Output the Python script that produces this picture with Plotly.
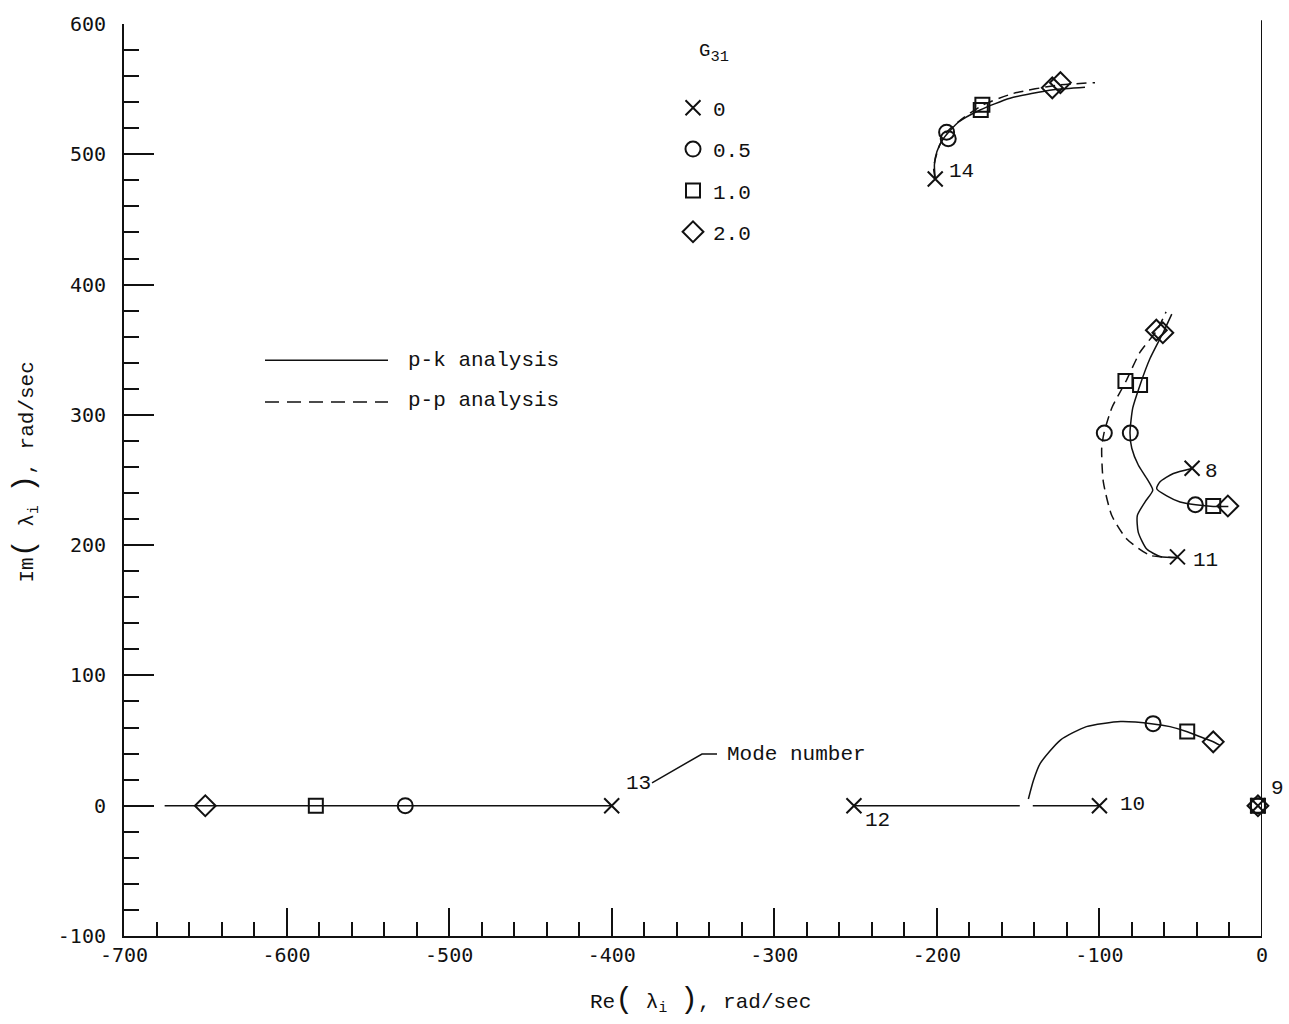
import plotly.graph_objects as go

# ---------------------------------------------------------------
# Root loci of modes 8-14, Re / Im of lambda_i in rad/sec
# ---------------------------------------------------------------

# Mode 14: p-k and p-p analyses
m14_pk_re = [-201, -201.5, -200, -196, -186.8, -173.4, -155, -128.4, -108.9]
m14_pk_im = [481, 492, 502, 512, 524.6, 534, 543, 549.5, 551.5]
m14_pp_re = [-201, -202, -199, -194, -183.7, -171.4, -153, -126, -102.7]
m14_pp_im = [481, 490, 504.7, 517, 528, 538, 546.7, 553, 555]

# Mode 11 (p-k) - veers away from mode 8 near -67 + 240i
m11_pk_re = [-51.5, -62.7, -70.9, -76.1, -76.7, -72, -67.2, -70.9, -76.1, -80.1,
             -81.2, -79.5, -75, -68.9, -60.7, -55.5]
m11_pk_im = [190.5, 191.3, 197, 209.8, 222.7, 233.1, 242.1, 251.2, 261.5, 274.4,
             286, 305.3, 323, 343.2, 363.4, 377.3]
# Mode 11 (p-p)
m11_pp_re = [-51.5, -68.9, -83.2, -92.4, -97.6, -98.6, -97.2, -92.4, -83.6, -75, -64.8, -59]
m11_pp_im = [190.5, 192.2, 204.7, 222.7, 248.6, 274.4, 286, 305.3, 326, 348.2, 364.6, 379]

# Mode 8 (p-k)
m8_pk_re = [-43.2, -54.5, -62.7, -64.8, -58.6, -50.4, -40.8, -30, -20.7]
m8_pk_im = [258.9, 255, 248.6, 243.4, 237.8, 233.1, 231, 229.7, 229.7]

# Modes 12 and 10 on the real axis, then the complex branch
m12_re = [-251, -149]
m12_im = [0, 0]
m10_re = [-100, -141]
m10_im = [0, 0]
m10_branch_re = [-143.7, -140.6, -136.5, -124, -108, -87, -67, -56.6, -46, -38, -30, -26]
m10_branch_im = [5.2, 19.4, 32.3, 50.4, 60.7, 64.6, 62.8, 60.7, 56.8, 52.9, 49.1, 46.5]

# Mode 13 along the negative real axis
m13_re = [-400, -527, -582, -650, -675]
m13_im = [0, 0, 0, 0, 0]

# Roots at each value of G31
# G31 = 0   : modes 8, 9, 10, 11, 12, 13, 14
g0_re = [-43, -2.5, -100, -52, -251, -400, -201]
g0_im = [259, 0, 0, 191, 0, 0, 481]
mode_ids = ["8", "9", "10", "11", "12", "13", "14"]
# G31 = 0.5 : p-k modes 8, 9, 10, 11; p-p mode 11; p-k 13; p-k 14; p-p 14
g05_re = [-41, -2.5, -67, -81, -97, -527, -193, -194]
g05_im = [231, 0, 63, 286, 286, 0, 512, 517]
# G31 = 1.0
g10_re = [-30, -2.5, -46, -75, -84, -582, -173, -172]
g10_im = [230, 0, 57, 323, 326, 0, 534, 538]
# G31 = 2.0
g20_re = [-21, -2.5, -30, -61, -65, -650, -129, -124]
g20_im = [230, 0, 49, 363, 365, 0, 551, 555]

g31_labels = ["0", "0.5", "1.0", "2.0"]

x_ticks = [-700, -600, -500, -400, -300, -200, -100, 0]
y_ticks = [-100, 0, 100, 200, 300, 400, 500, 600]

TXT = "Liberation Mono"
NUM = "DejaVu Sans Mono"
INK = "#111111"

fig = go.Figure()

solid = dict(color=INK, width=1.5, shape="spline", smoothing=0.6)
dashed = dict(color=INK, width=1.5, shape="spline", smoothing=0.6, dash="10px,6px")

curves = [
    (m14_pk_re, m14_pk_im, solid),
    (m14_pp_re, m14_pp_im, dashed),
    (m11_pk_re, m11_pk_im, solid),
    (m11_pp_re, m11_pp_im, dashed),
    (m8_pk_re, m8_pk_im, solid),
    (m12_re, m12_im, solid),
    (m10_re, m10_im, solid),
    (m10_branch_re, m10_branch_im, solid),
    (m13_re, m13_im, solid),
]
for xs, ys, ln in curves:
    fig.add_trace(go.Scatter(x=xs, y=ys, mode="lines", line=ln,
                             showlegend=False, hoverinfo="skip"))

marker_sets = [
    (g0_re, g0_im, "x-thin-open", 15),
    (g05_re, g05_im, "circle-open", 15),
    (g10_re, g10_im, "square-open", 14),
    (g20_re, g20_im, "diamond-open", 16),
]
for (xs, ys, sym, size), name in zip(marker_sets, g31_labels):
    fig.add_trace(go.Scatter(
        x=xs, y=ys, mode="markers", name=name, legendgroup=name,
        marker=dict(symbol=sym, size=size, color=INK,
                    line=dict(color=INK, width=2)),
        cliponaxis=False,
    ))

# mode-number labels next to the G31 = 0 roots
label_offsets = {"8": (11, -3), "9": (11, 17), "10": (19, 1), "11": (14, -4),
                 "12": (9, -15), "13": (12, 22), "14": (12, 8)}
annotations = []
for mid, xr, yi in zip(mode_ids, g0_re, g0_im):
    dx, dy = label_offsets[mid]
    annotations.append(dict(x=xr, y=yi, xref="x", yref="y", text=mid,
                            showarrow=False, xanchor="left", yanchor="middle",
                            xshift=dx, yshift=dy,
                            font=dict(family=TXT, size=21, color=INK)))

def px_x(p):
    return (p - 124) / 1138.0

def px_y(p):
    return (936 - p) / 917.0

paren = "<span style='font-size:30px'>%s</span>"
annotations += [
    dict(x=px_x(697), y=px_y(48), xref="paper", yref="paper",
         text="G<span style='font-size:22px'><sub>31</sub></span>", showarrow=False,
         xanchor="left", yanchor="middle",
         font=dict(family=TXT, size=19, color=INK)),
    dict(x=px_x(406), y=px_y(357), xref="paper", yref="paper",
         text="p-k analysis", showarrow=False, xanchor="left", yanchor="middle",
         font=dict(family=TXT, size=21, color=INK)),
    dict(x=px_x(406), y=px_y(398), xref="paper", yref="paper",
         text="p-p analysis", showarrow=False, xanchor="left", yanchor="middle",
         font=dict(family=TXT, size=21, color=INK)),
    dict(x=px_x(725), y=px_y(754), xref="paper", yref="paper",
         text="Mode number", showarrow=False, xanchor="left", yanchor="middle",
         font=dict(family=TXT, size=21, color=INK)),
    dict(x=px_x(700), y=px_y(1000), xref="paper", yref="paper",
         text="Re" + paren % "(" + " λ<sub>i</sub> " + paren % ")" + ", rad/sec",
         showarrow=False, xanchor="center", yanchor="middle",
         font=dict(family=TXT, size=21, color=INK)),
    dict(x=px_x(25), y=px_y(470), xref="paper", yref="paper", textangle=-90,
         text="Im" + paren % "(" + " λ<sub>i</sub> " + paren % ")" + ", rad/sec",
         showarrow=False, xanchor="center", yanchor="middle",
         font=dict(family=TXT, size=21, color=INK)),
]

shapes = [
    # imaginary axis
    dict(type="line", xref="x", yref="paper", x0=0, x1=0, y0=0, y1=1.004,
         line=dict(color=INK, width=2)),
    # line-style key
    dict(type="line", xref="paper", yref="paper", x0=px_x(265), x1=px_x(388),
         y0=px_y(357), y1=px_y(357), line=dict(color=INK, width=1.5)),
    dict(type="line", xref="paper", yref="paper", x0=px_x(265), x1=px_x(388),
         y0=px_y(399), y1=px_y(399), line=dict(color=INK, width=1.5, dash="14px,8px")),
    # mode-number leader
    dict(type="path", xref="paper", yref="paper",
         path="M %f,%f L %f,%f L %f,%f" % (px_x(652), px_y(782), px_x(702), px_y(753),
                                           px_x(717), px_y(753)),
         line=dict(color=INK, width=1.5)),
]

fig.update_layout(
    width=1289, height=1024, autosize=False,
    margin=dict(l=124, r=27, t=19, b=88),
    paper_bgcolor="white", plot_bgcolor="white",
    showlegend=True,
    legend=dict(x=px_x(673), y=px_y(83), xanchor="left", yanchor="top",
                bgcolor="rgba(0,0,0,0)", borderwidth=0, tracegroupgap=11,
                font=dict(family=TXT, size=21, color=INK), itemclick=False),
    annotations=annotations,
    shapes=shapes,
)
fig.update_xaxes(range=[-700, 0], tickvals=x_ticks, ticktext=[str(v) for v in x_ticks],
                 ticks="inside", ticklen=28, tickwidth=1.5, tickcolor=INK,
                 minor=dict(dtick=20, ticks="inside", ticklen=14, tickwidth=1.5, tickcolor=INK),
                 showline=True, linewidth=2, linecolor=INK,
                 showgrid=False, zeroline=False,
                 tickfont=dict(family=NUM, size=20, color=INK))
fig.update_yaxes(range=[-100, 600], tickvals=y_ticks, ticktext=[str(v) for v in y_ticks],
                 ticks="inside", ticklen=30, tickwidth=1.5, tickcolor=INK,
                 minor=dict(dtick=20, ticks="inside", ticklen=15, tickwidth=1.5, tickcolor=INK),
                 showline=True, linewidth=2, linecolor=INK,
                 showgrid=False, zeroline=False, ticklabelstandoff=12,
                 tickfont=dict(family=NUM, size=20, color=INK))

fig.write_html("out.html")
